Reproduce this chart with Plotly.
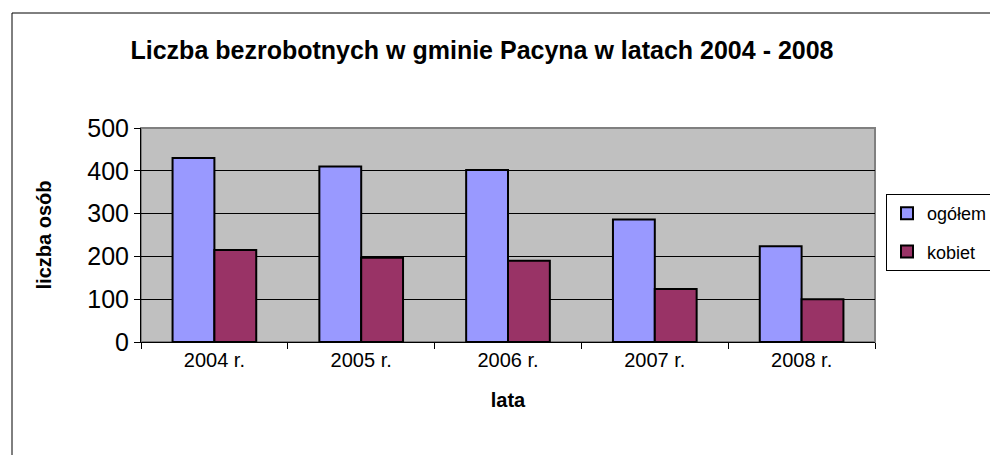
import plotly.graph_objects as go

categories = ["2004 r.", "2005 r.", "2006 r.", "2007 r.", "2008 r."]
ogolem = [430, 410, 402, 286, 224]
kobiet = [215, 197, 190, 124, 100]
y_ticks = [0, 100, 200, 300, 400, 500]

OFF = 8  # page body margin in the browser
W, H = 998 - OFF, 455 - OFF
L, T = 141 - OFF, 128 - OFF
pw, ph = 734, 214
R, B = W - L - pw, H - T - ph


def px_x(x):
    return (x - OFF - L) / pw


def px_y(y):
    return (T + ph - (y - OFF)) / ph


font = "Liberation Sans, Arial, sans-serif"

fig = go.Figure()
fig.add_trace(go.Bar(name="ogółem", x=categories, y=ogolem, legendgroup="a",
                     marker=dict(color="#9999FF", line=dict(color="black", width=2))))
fig.add_trace(go.Bar(name="kobiet", x=categories, y=kobiet, legendgroup="b",
                     marker=dict(color="#993366", line=dict(color="black", width=2))))

fig.update_layout(
    width=W, height=H,
    margin=dict(l=L, r=R, t=T, b=B, autoexpand=False),
    paper_bgcolor="white",
    plot_bgcolor="#C0C0C0",
    barmode="group",
    bargap=0.43,
    bargroupgap=0,
    font=dict(family=font, color="black"),
    title=dict(text="<b>Liczba bezrobotnych w gminie Pacyna w latach 2004 - 2008</b>",
               x=px_x(482), xref="paper", xanchor="center",
               y=1 - (50 - OFF) / H, yanchor="middle", font=dict(size=25)),
    showlegend=True,
    legend=dict(x=px_x(886), y=px_y(194), xanchor="left", yanchor="top",
                bgcolor="white", bordercolor="black", borderwidth=1,
                font=dict(size=18), traceorder="grouped", tracegroupgap=12,
                itemwidth=30),
    xaxis=dict(
        type="category",
        showline=True, linecolor="black", linewidth=1,
        ticks="outside", ticklen=6, tickcolor="black", tickson="boundaries",
        tickfont=dict(size=20),
        title=dict(text="<b>lata</b>", font=dict(size=20), standoff=22),
        showgrid=False, mirror=False,
    ),
    yaxis=dict(
        range=[0, 500], tickvals=y_ticks,
        showline=True, linecolor="black", linewidth=1,
        ticks="outside", ticklen=6, tickcolor="black",
        tickfont=dict(size=25),
        showgrid=True, gridcolor="black", gridwidth=1,
        zeroline=False,
        title=dict(text="<b>liczba osób</b>", font=dict(size=20), standoff=30),
    ),
    shapes=[
        dict(type="rect", xref="paper", yref="paper", x0=0, x1=1, y0=0, y1=1,
             line=dict(color="#808080", width=2), layer="below"),
        dict(type="rect", xref="paper", yref="paper",
             x0=px_x(12), x1=px_x(1010), y0=px_y(13), y1=px_y(470),
             line=dict(color="black", width=1)),
    ],
)

fig.write_html("out.html")
